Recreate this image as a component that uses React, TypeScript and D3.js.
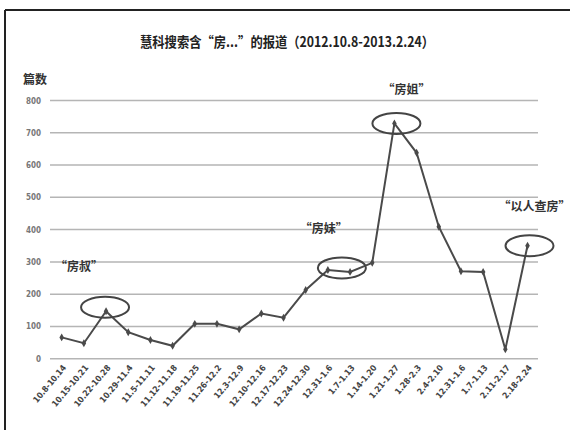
import React from "react";
import * as d3 from "d3";

const categories = [
  "10.8-10.14", "10.15-10.21", "10.22-10.28", "10.29-11.4", "11.5-11.11", "11.12-11.18",
  "11.19-11.25", "11.26-12.2", "12.3-12.9", "12.10-12.16", "12.17-12.23", "12.24-12.30",
  "12.31-1.6", "1.7-1.13", "1.14-1.20", "1.21-1.27", "1.28-2.3", "2.4-2.10",
  "12.31-1.6 ", "1.7-1.13 ", "2.11-2.17", "2.18-2.24",
];
const values = [66, 48, 147, 82, 58, 40, 108, 108, 91, 140, 127, 213, 275, 269, 297, 729, 638, 409, 271, 269, 29, 350];
const yTicks = [0, 100, 200, 300, 400, 500, 600, 700, 800];
const annotations = [
  { index: 2, label: "“房叔”", dx: -27, dy: -40 },
  { index: 12, label: "“房妹”", dx: -4, dy: -37 },
  { index: 15, label: "“房姐”", dx: 12, dy: -29 },
  { index: 21, label: "“以人查房”", dx: 7, dy: -35 },
];
const ellipseOffsets = [
  { index: 2, dx: -1, dy: -4 },
  { index: 12, dx: 14, dy: -2 },
  { index: 15, dx: 2, dy: 0 },
  { index: 21, dx: 2, dy: 0 },
];
const titleCJK = "慧科搜索含“房...”的报道（";
const titleRange = "2012.10.8-2013.2.24";
const titleEnd = "）";

export default function App() {
  const W = 570, H = 430;
  const x = d3.scaleBand<string>().domain(categories).range([50.6, 538.6]);
  const y = d3.scaleLinear().domain([0, 800]).range([358.7, 100.5]);
  const cx = (i: number) => (x(categories[i]) as number) + x.bandwidth() / 2;
  const line = d3.line<number>().x((_, i) => cx(i)).y((d) => y(d));
  const cjk = "'Noto Sans CJK SC', 'Liberation Sans Narrow', sans-serif";
  const narrow = "'Liberation Sans Narrow', 'DejaVu Sans Condensed', sans-serif";

  return (
    <svg width={W} height={H} style={{ position: "absolute", left: 0, top: 0, background: "#fff" }}>
      <rect x={0} y={0} width={W} height={H} fill="#fff" />
      <line x1={5} x2={570} y1={10} y2={10} stroke="#222" strokeWidth={2} />
      <line x1={5} x2={5} y1={10} y2={430} stroke="#222" strokeWidth={2} />
      <text
        x={140}
        y={47}
        textLength={294}
        lengthAdjust="spacingAndGlyphs"
        fontFamily={cjk}
        fontWeight="bold"
        fontSize={14}
        fill="#222"
      >
        {titleCJK + titleRange + titleEnd}
      </text>
      <text x={23} y={84} fontFamily={cjk} fontWeight="bold" fontSize={12} fill="#333">篇数</text>
      {yTicks.map((t) => (
        <g key={t}>
          <line x1={50} x2={538} y1={y(t)} y2={y(t)} stroke="#b5b5b5" strokeWidth={1.5} />
          <text x={41} y={y(t) + 3} textAnchor="end" fontFamily={narrow} fontSize={8} fontWeight="bold" fill="#777">
            {t}
          </text>
        </g>
      ))}
      {categories.map((c, i) => (
        <text
          key={i}
          transform={`translate(${cx(i) + 5},${368}) rotate(-50)`}
          textAnchor="end"
          fontFamily={narrow}
          fontWeight="bold"
          fontSize={8.5}
          fill="#444"
        >
          {c.trim()}
        </text>
      ))}
      <path d={line(values) || ""} fill="none" stroke="#4a4a4a" strokeWidth={2} />
      {values.map((v, i) => (
        <path
          key={i}
          d={d3.symbol().type(d3.symbolDiamond).size(18)() || ""}
          transform={`translate(${cx(i)},${y(v)})`}
          fill="#4a4a4a"
        />
      ))}
      {ellipseOffsets.map((e) => (
        <ellipse
          key={e.index}
          cx={cx(e.index) + e.dx}
          cy={y(values[e.index]) + e.dy}
          rx={24}
          ry={10.5}
          fill="none"
          stroke="#444"
          strokeWidth={2}
        />
      ))}
      {annotations.map((a) => (
        <text
          key={a.index}
          x={cx(a.index) + a.dx}
          y={y(values[a.index]) + a.dy}
          textAnchor="middle"
          fontFamily={cjk}
          fontWeight="bold"
          fontSize={12}
          fill="#333"
        >
          {a.label}
        </text>
      ))}
    </svg>
  );
}
